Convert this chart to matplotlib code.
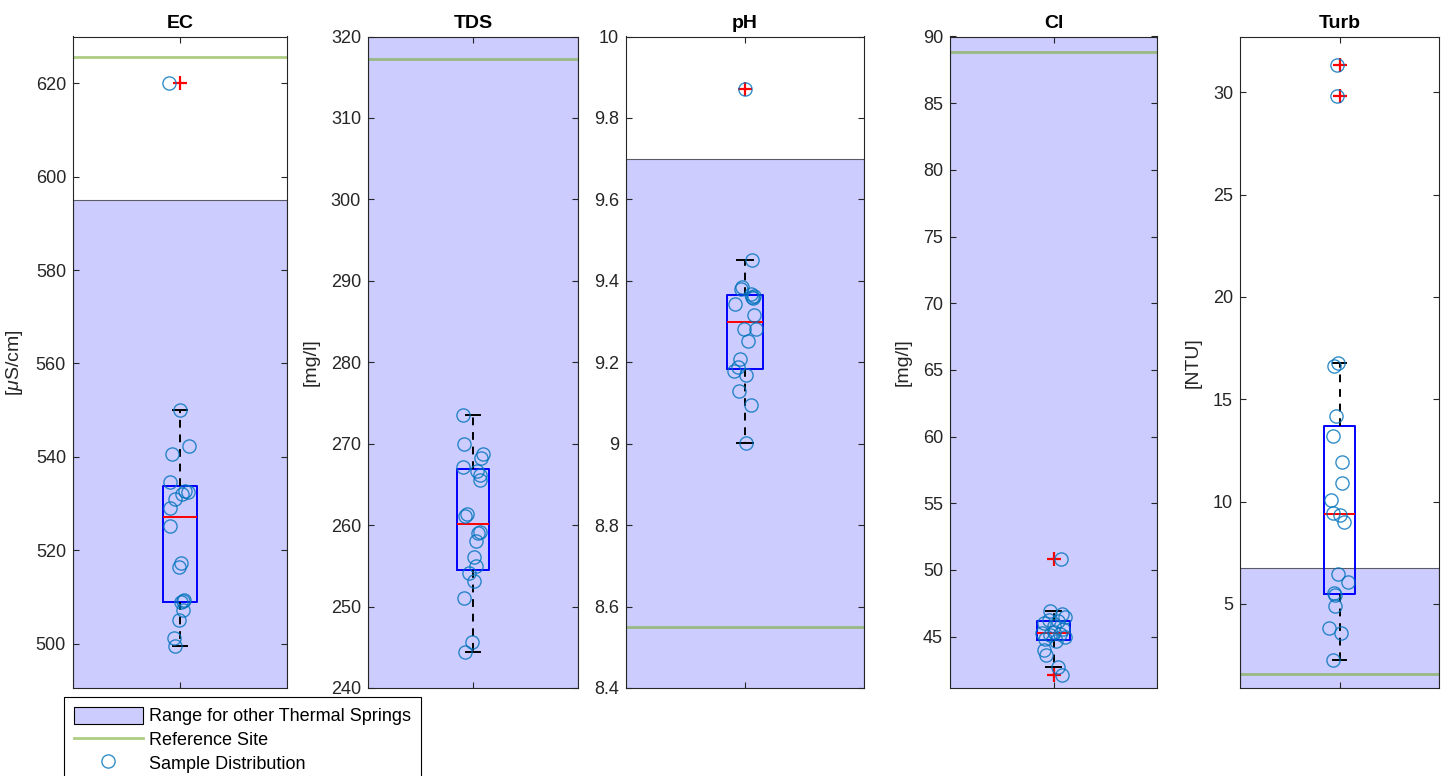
import numpy as np
import matplotlib
matplotlib.use("Agg")
import matplotlib.pyplot as plt
from matplotlib.patches import Patch
from matplotlib.lines import Line2D
from matplotlib.ticker import FormatStrFormatter, FuncFormatter

plt.rcParams['font.family'] = ['Liberation Sans', 'DejaVu Sans']
plt.rcParams['mathtext.fontset'] = 'custom'
plt.rcParams['mathtext.rm'] = 'Liberation Sans'
plt.rcParams['mathtext.it'] = 'Liberation Sans:italic'

# ---------------- data ----------------
titles = ["EC", "TDS", "pH", "Cl", "Turb"]
ylabels = ["[$\\mu$S/cm]", "[mg/l]", "", "[mg/l]", "[NTU]"]

ec_vals = [499.6, 501.1, 505.1, 507.1, 508.9, 509.1, 509.3, 516.4, 517.2, 525.1,
           529.0, 531.0, 532.0, 532.4, 532.6, 534.7, 540.6, 542.4, 550.0, 620.0]
ec_jitter = [-0.023, -0.028, -0.005, 0.015, 0.006, 0.012, 0.019, -0.005, 0.006, -0.047,
             -0.047, -0.023, 0.011, 0.039, 0.023, -0.047, -0.039, 0.042, 0.0, -0.051]

tds_vals = [244.4, 245.7, 251.0, 253.1, 254.1, 255.0, 256.1, 258.0, 259.0, 259.2,
            261.1, 261.4, 265.5, 266.2, 266.6, 267.1, 268.2, 268.7, 270.0, 273.5]
tds_jitter = [-0.037, -0.005, -0.044, 0.006, -0.021, 0.016, 0.006, 0.016, 0.022, 0.032,
              -0.037, -0.029, 0.035, 0.032, 0.019, -0.048, 0.038, 0.048, -0.044, -0.048]

ph_vals = [9.002, 9.094, 9.130, 9.169, 9.179, 9.188, 9.208, 9.251, 9.282, 9.282,
           9.316, 9.343, 9.357, 9.360, 9.363, 9.367, 9.381, 9.385, 9.451, 9.87]
ph_jitter = [0.003, 0.024, -0.025, 0.006, -0.046, -0.028, -0.021, 0.014, -0.004, 0.045,
             0.038, -0.042, 0.034, 0.029, 0.038, 0.024, -0.018, -0.011, 0.031, 0.0]

cl_vals = [42.13, 42.7, 43.63, 44.0, 44.7, 44.8, 44.95, 45.1, 45.2, 45.25,
           45.35, 45.6, 45.8, 46.0, 46.15, 46.25, 46.5, 46.7, 46.95, 50.83]
cl_jitter = [0.039, 0.024, -0.034, -0.048, 0.014, -0.040, 0.056, -0.016, 0.032, -0.056,
             0.0, 0.048, 0.0, -0.048, 0.024, -0.024, 0.056, 0.039, -0.019, 0.037]

turb_vals = [2.25, 3.56, 3.81, 4.90, 5.45, 5.52, 6.08, 6.46, 9.02, 9.35,
             9.46, 10.08, 10.93, 11.93, 13.22, 14.16, 16.61, 16.77, 29.82, 31.33]
turb_jitter = [-0.035, 0.007, -0.052, -0.022, -0.025, -0.030, 0.045, -0.010, 0.025, 0.003,
               -0.035, -0.044, 0.015, 0.012, -0.034, -0.017, -0.030, -0.008, -0.012, -0.012]

# range for other thermal springs (low, high) and reference site value
range_low = [480.0, 230.0, 8.3, 40.0, 0.5]
range_high = [595.0, 330.0, 9.7, 95.0, 6.74]
reference = [625.7, 317.2, 8.55, 88.85, 1.57]

ylims = [(490.5, 630.0), (240.0, 320.0), (8.4, 10.0), (41.15, 90.0), (0.89, 32.73)]
yticks = [np.arange(500, 621, 20), np.arange(240, 321, 10), np.arange(8.4, 10.01, 0.2),
          np.arange(45, 91, 5), np.arange(5, 31, 5)]

all_vals = [ec_vals, tds_vals, ph_vals, cl_vals, turb_vals]
all_jitter = [ec_jitter, tds_jitter, ph_jitter, cl_jitter, turb_jitter]

# ---------------- layout ----------------
W, H = 1451, 776
panel_px = [(73, 287), (368, 578), (626, 864), (950, 1157), (1240, 1439)]
top_px, bot_px = 36.5, 688

fig = plt.figure(figsize=(W / 100, H / 100), dpi=100)

axis_col = '#262626'
shade_face = (0, 0, 1, 0.2)
ref_col = (0.466, 0.674, 0.188, 0.6)
pt_col = (0.0, 0.447, 0.741, 0.8)


def box_stats(v):
    v = np.asarray(v)
    q1, med, q3 = np.percentile(v, [25, 50, 75], method='hazen')
    iqr = q3 - q1
    lo_f, hi_f = q1 - 1.5 * iqr, q3 + 1.5 * iqr
    inside = v[(v >= lo_f) & (v <= hi_f)]
    return dict(med=med, q1=q1, q3=q3, whislo=inside.min(), whishi=inside.max(),
                fliers=v[(v < lo_f) | (v > hi_f)])


def gfmt(x, pos):
    return ('%.1f' % x).rstrip('0').rstrip('.')


for i in range(5):
    l, r = panel_px[i]
    ax = fig.add_axes([l / W, 1 - bot_px / H, (r - l) / W, (bot_px - top_px) / H])
    ax.set_xlim(0.5, 1.5)
    ax.set_ylim(*ylims[i])

    ax.axhspan(range_low[i], range_high[i], facecolor=shade_face,
               edgecolor=(0, 0, 0, 0.6), linewidth=0.8, zorder=1)
    ax.axhline(reference[i], color=ref_col, linewidth=2.0, zorder=2)

    st = box_stats(all_vals[i])
    ax.bxp([st], positions=[1], widths=0.155, capwidths=0.07, showfliers=True,
           boxprops=dict(color='blue', linewidth=1.4),
           medianprops=dict(color='red', linewidth=1.4),
           whiskerprops=dict(color='black', linewidth=1.4, linestyle=(0, (4, 3.5))),
           capprops=dict(color='black', linewidth=1.4),
           flierprops=dict(marker='+', markeredgecolor='red', markersize=9.5,
                           markeredgewidth=1.6, linestyle='none'),
           manage_ticks=False, zorder=3)

    xs = 1 + np.asarray(all_jitter[i])
    ax.plot(xs, all_vals[i], linestyle='none', marker='o', markersize=9.5,
            markerfacecolor='none', markeredgecolor=pt_col, markeredgewidth=1.0, zorder=4)

    ax.set_xticks([1])
    ax.set_xticklabels([])
    ax.set_yticks(yticks[i])
    if i == 2:
        ax.yaxis.set_major_formatter(FuncFormatter(gfmt))
    else:
        ax.yaxis.set_major_formatter(FormatStrFormatter('%g'))
    ax.tick_params(axis='both', direction='in', length=4.5, width=0.8,
                   colors=axis_col, labelsize=13, pad=5,
                   left=True, right=True, top=True, bottom=True)
    for s in ax.spines.values():
        s.set_color(axis_col)
        s.set_linewidth(0.8)
        s.set_zorder(5)
    ax.set_title(titles[i], fontsize=14, fontweight='bold', pad=6, color='black')
    if ylabels[i]:
        ax.set_ylabel(ylabels[i], fontsize=14, color=axis_col, labelpad=8)

handles = [Patch(facecolor=shade_face, edgecolor='black', linewidth=0.8),
           Line2D([0], [0], color=ref_col, linewidth=2.0),
           Line2D([0], [0], linestyle='none', marker='o', markersize=9.5,
                  markerfacecolor='none', markeredgecolor=pt_col, markeredgewidth=1.0)]
labels = ["Range for other Thermal Springs", "Reference Site", "Sample Distribution"]
leg = fig.legend(handles, labels, loc='upper left', bbox_to_anchor=(64 / W, 1 - 697 / H),
                 fontsize=13, frameon=True, fancybox=False, edgecolor='black',
                 framealpha=1, borderaxespad=0, borderpad=0.55, handlelength=3.8,
                 handleheight=1.05, handletextpad=0.35, labelspacing=0.28)
leg.get_frame().set_linewidth(0.8)

fig.savefig('out.png', dpi=100)
